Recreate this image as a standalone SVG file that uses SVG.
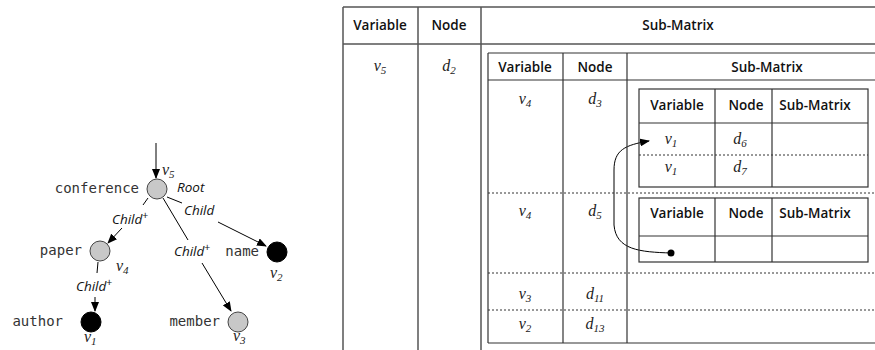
<svg xmlns="http://www.w3.org/2000/svg" width="875" height="350" viewBox="0 0 875 350">
<defs>
<marker id="ah" markerWidth="10" markerHeight="8" refX="9" refY="4" orient="auto" markerUnits="userSpaceOnUse"><path d="M0,0 L10,4 L0,8 z" fill="#000"/></marker>
<style>
.mono{font-family:"DejaVu Sans Mono","Liberation Mono",monospace;font-size:14px;fill:#333}
.lab{font-family:"Open Sans","Liberation Sans",sans-serif;font-style:italic;font-size:13.5px;fill:#111}
.var{font-family:"Liberation Serif","DejaVu Serif",serif;font-style:italic;font-size:16px;fill:#222}
.sub{font-size:11px}
.hd{font-family:"Open Sans","Liberation Sans",sans-serif;font-weight:600;font-size:13.5px;fill:#111;text-anchor:middle}
.cell{text-anchor:middle}
.edge{stroke:#000;stroke-width:1;fill:none}
.gray{fill:#c8c8c8;stroke:#444;stroke-width:1}
.blk{fill:#000;stroke:#000;stroke-width:1}
.outer{stroke:#555;stroke-width:1.5;fill:none}
.inner{stroke:#333;stroke-width:1.2;fill:none}
.dot{stroke:#333;stroke-width:1;stroke-dasharray:2,2;fill:none}
</style>
</defs>
<rect width="875" height="350" fill="#fff"/>

<g id="connectors">
<line class="edge" x1="156" y1="143" x2="156" y2="178" marker-end="url(#ah)"/>
<line class="edge" x1="167" y1="197" x2="182" y2="203"/>
<line class="edge" x1="218" y1="222" x2="266" y2="246" marker-end="url(#ah)"/>
<line class="edge" x1="148" y1="198" x2="143" y2="205"/>
<line class="edge" x1="122" y1="228" x2="108" y2="243" marker-end="url(#ah)"/>
<line class="edge" x1="163" y1="198" x2="188" y2="240"/>
<line class="edge" x1="202" y1="263" x2="231" y2="311" marker-end="url(#ah)"/>
<line class="edge" x1="98" y1="262" x2="97" y2="273"/>
<line class="edge" x1="95" y1="297" x2="95" y2="311" marker-end="url(#ah)"/>
<path class="edge" d="M671,253 C640,252 616,250 614,225 L614,170 C614,150 625,145 649,141" marker-end="url(#ah)"/>
</g>
<g id="edge-labels">
<text class="lab" x="177" y="192">Root</text>
<text class="lab" x="184" y="215">Child</text>
<text class="lab" x="112" y="224">Child<tspan dy="-5" font-size="10.5" font-style="normal">+</tspan></text>
<text class="lab" x="174" y="256">Child<tspan dy="-5" font-size="10.5" font-style="normal">+</tspan></text>
<text class="lab" x="76" y="291">Child<tspan dy="-5" font-size="10.5" font-style="normal">+</tspan></text>
</g>
<g id="n-conference">
<circle class="gray" cx="157" cy="189" r="10"/>
<text class="mono" x="139" y="193" text-anchor="end">conference</text>
<text class="var" x="162" y="175">v<tspan class="sub" dy="3">5</tspan></text>
</g>
<g id="n-name">
<circle class="blk" cx="277" cy="252" r="10"/>
<text class="mono" x="259" y="256" text-anchor="end">name</text>
<text class="var" x="270" y="278">v<tspan class="sub" dy="3">2</tspan></text>
</g>
<g id="n-paper">
<circle class="gray" cx="100" cy="251" r="10"/>
<text class="mono" x="82" y="255" text-anchor="end">paper</text>
<text class="var" x="116" y="271">v<tspan class="sub" dy="3">4</tspan></text>
</g>
<g id="n-member">
<circle class="gray" cx="238" cy="322" r="10"/>
<text class="mono" x="220" y="326" text-anchor="end">member</text>
<text class="var" x="233" y="341">v<tspan class="sub" dy="3">3</tspan></text>
</g>
<g id="n-author">
<circle class="blk" cx="91" cy="322" r="10"/>
<text class="mono" x="63" y="326" text-anchor="end">author</text>
<text class="var" x="84" y="342">v<tspan class="sub" dy="3">1</tspan></text>
</g>

<g id="outer-table">
<line class="outer" x1="343" y1="7" x2="875" y2="7"/>
<line class="outer" x1="343" y1="44" x2="875" y2="44"/>
<line class="outer" x1="343" y1="7" x2="343" y2="350"/>
<line class="outer" x1="418" y1="7" x2="418" y2="350"/>
<line class="outer" x1="481" y1="7" x2="481" y2="350"/>
<text class="hd" x="380" y="30">Variable</text>
<text class="hd" x="449" y="30">Node</text>
<text class="hd" x="678" y="30">Sub-Matrix</text>
<text class="var cell" x="380" y="71">v<tspan class="sub" dy="3">5</tspan></text>
<text class="var cell" x="449" y="71">d<tspan class="sub" dy="3">2</tspan></text>
</g>

<g id="inner-table">
<line class="inner" x1="488" y1="53" x2="875" y2="53"/>
<line class="inner" x1="488" y1="80" x2="875" y2="80"/>
<line class="inner" x1="488" y1="343" x2="875" y2="343"/>
<line class="inner" x1="488" y1="53" x2="488" y2="343"/>
<line class="inner" x1="563" y1="53" x2="563" y2="343"/>
<line class="inner" x1="627" y1="53" x2="627" y2="343"/>
<line class="dot" x1="488" y1="193" x2="875" y2="193"/>
<line class="dot" x1="488" y1="273" x2="875" y2="273"/>
<line class="dot" x1="488" y1="310" x2="875" y2="310"/>
<text class="hd" x="525" y="72">Variable</text>
<text class="hd" x="595" y="72">Node</text>
<text class="hd" x="767" y="72">Sub-Matrix</text>
<text class="var cell" x="525" y="104">v<tspan class="sub" dy="3">4</tspan></text>
<text class="var cell" x="595" y="104">d<tspan class="sub" dy="3">3</tspan></text>
<text class="var cell" x="525" y="216">v<tspan class="sub" dy="3">4</tspan></text>
<text class="var cell" x="595" y="216">d<tspan class="sub" dy="3">5</tspan></text>
<text class="var cell" x="525" y="299">v<tspan class="sub" dy="3">3</tspan></text>
<text class="var cell" x="595" y="299">d<tspan class="sub" dy="3">11</tspan></text>
<text class="var cell" x="525" y="329">v<tspan class="sub" dy="3">2</tspan></text>
<text class="var cell" x="595" y="329">d<tspan class="sub" dy="3">13</tspan></text>
</g>

<g id="table-a">
<rect class="inner" x="639" y="89" width="229" height="98"/>
<line class="inner" x1="639" y1="123" x2="868" y2="123"/>
<line class="inner" x1="715" y1="89" x2="715" y2="187"/>
<line class="inner" x1="772" y1="89" x2="772" y2="187"/>
<line class="dot" x1="639" y1="155" x2="868" y2="155"/>
<text class="hd" x="677" y="110">Variable</text>
<text class="hd" x="746" y="110">Node</text>
<text class="hd" x="815" y="110">Sub-Matrix</text>
<text class="var cell" x="671" y="144">v<tspan class="sub" dy="3">1</tspan></text>
<text class="var cell" x="740" y="144">d<tspan class="sub" dy="3">6</tspan></text>
<text class="var cell" x="671" y="172">v<tspan class="sub" dy="3">1</tspan></text>
<text class="var cell" x="740" y="172">d<tspan class="sub" dy="3">7</tspan></text>
</g>

<g id="table-b">
<rect class="inner" x="639" y="198" width="229" height="64"/>
<line class="inner" x1="639" y1="236" x2="868" y2="236"/>
<line class="inner" x1="715" y1="198" x2="715" y2="262"/>
<line class="inner" x1="772" y1="198" x2="772" y2="262"/>
<text class="hd" x="677" y="218">Variable</text>
<text class="hd" x="746" y="218">Node</text>
<text class="hd" x="815" y="218">Sub-Matrix</text>
<circle cx="671" cy="253" r="3.5" fill="#000"/>
</g>
</svg>
